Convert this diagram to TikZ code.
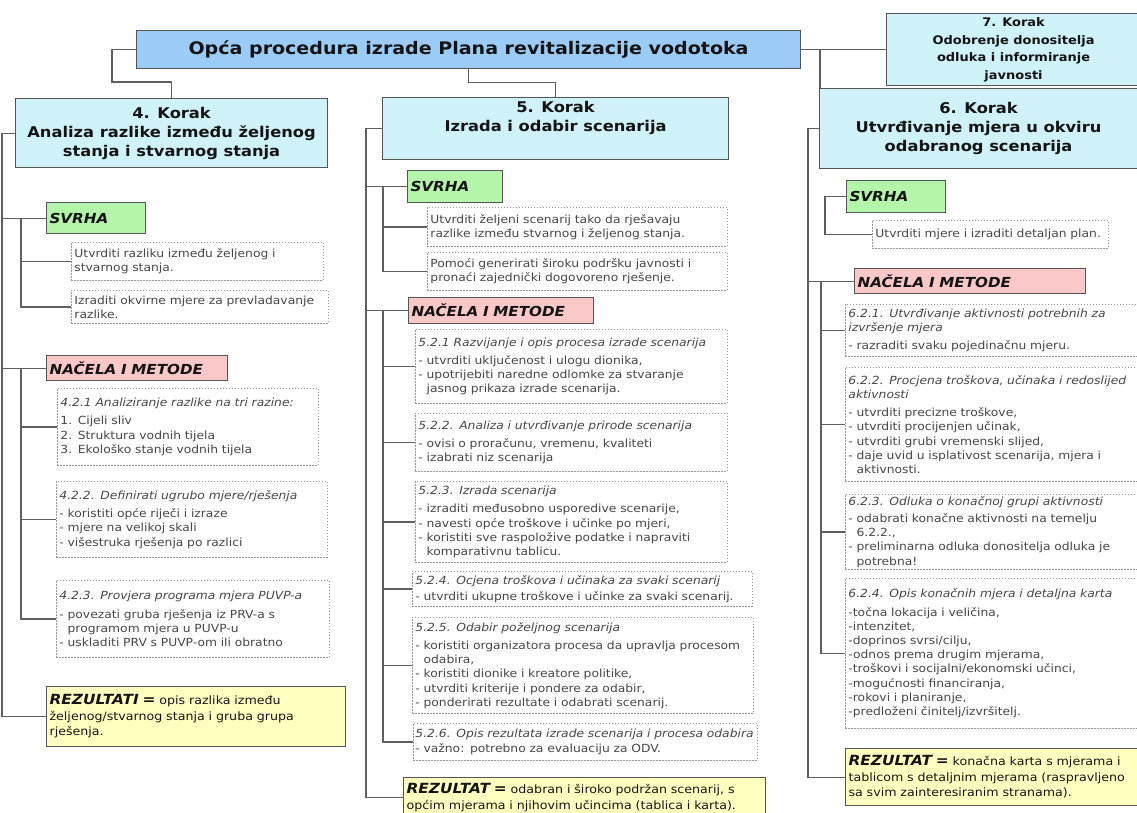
\documentclass[tikz,border=0pt]{standalone}
\usepackage{fontspec}
\setmainfont{DejaVu Sans}[FakeStretch=1.1]
\definecolor{titlec}{RGB}{155,204,248}
\definecolor{korakc}{RGB}{207,242,248}
\definecolor{svrhac}{RGB}{180,245,170}
\definecolor{nacelac}{RGB}{250,200,200}
\definecolor{rezc}{RGB}{255,255,192}
\definecolor{borderc}{RGB}{85,85,85}
\definecolor{connc}{RGB}{95,95,95}
\definecolor{dotc}{RGB}{150,150,150}
\definecolor{bodyc}{RGB}{70,70,70}
\definecolor{headc}{RGB}{20,20,20}
\newcommand\myind{\phantom{-\ }}
\newcommand\fs[2]{\fontsize{#1}{#2}\selectfont}
\begin{document}
\begin{tikzpicture}[x=1pt,y=-1pt,
  solidbox/.style={draw=borderc, line width=1.1pt, anchor=north west, inner sep=0pt, text=headc},
  korak/.style={solidbox, fill=korakc, align=center, font=\fs{14.8}{19}\bfseries},
  svrhabox/.style={solidbox, fill=svrhac, align=left, inner xsep=3pt, font=\fs{13.8}{16}\bfseries\itshape},
  nacelabox/.style={solidbox, fill=nacelac, align=left, inner xsep=3pt, font=\fs{13.8}{16}\bfseries\itshape},
  rezbox/.style={solidbox, fill=rezc, align=left, inner xsep=3pt, font=\fs{11.5}{15.5}},
  dbox/.style={draw=dotc, line width=0.9pt, dash pattern=on 1.5pt off 1.5pt, anchor=north west,
    inner xsep=3pt, inner ysep=1pt, align=left, font=\fs{11.2}{14.2}, text=bodyc},
  conn/.style={draw=connc, line width=1.1pt}
]
\useasboundingbox[fill=white] (0,0) rectangle (1137,812);

% ---------- title and steps ----------
\node[solidbox, fill=titlec, minimum width=664pt, minimum height=38pt, font=\fs{17.3}{20}\bfseries]
  (title) at (136,30) {Opća procedura izrade Plana revitalizacije vodotoka};
\node[korak, minimum width=312pt, minimum height=69pt] (box4) at (15,98)
  {4. Korak\\Analiza razlike između željenog\\stanja i stvarnog stanja};
\node[korak, minimum width=346pt, minimum height=62pt] (box5) at (382,97)
  {5. Korak\\Izrada i odabir scenarija\\\strut};
\node[korak, minimum width=318pt, minimum height=80pt] (box6) at (819,88)
  {6. Korak\\Utvrđivanje mjera u okviru\\odabranog scenarija};
\node[korak, minimum width=254pt, minimum height=72pt, font=\fs{11.8}{17.5}\bfseries] (box7) at (886,13)
  {7. Korak\\Odobrenje donositelja\\odluka i informiranje\\javnosti};

% ---------- column 4 ----------
\node[svrhabox, text width=93pt, minimum height=31pt] (svrha4) at (46,202) {SVRHA};
\node[dbox, text width=246pt, minimum height=38pt] (s4a) at (71,242)
  {Utvrditi razliku između željenog i\\stvarnog stanja.};
\node[dbox, text width=251pt, minimum height=33pt] (s4b) at (71,290)
  {Izraditi okvirne mjere za prevladavanje\\razlike.};
\node[nacelabox, text width=175pt, minimum height=25pt] (nacela4) at (46,355) {NAČELA I METODE};
\node[dbox, text width=255pt, minimum height=77pt] (n4a) at (57,388)
  {\textit{4.2.1 Analiziranje razlike na tri razine:}\\[4pt]1. Cijeli sliv\\2. Struktura vodnih tijela\\3. Ekološko stanje vodnih tijela};
\node[dbox, text width=265pt, minimum height=76pt] (n4b) at (56,481)
  {\textit{4.2.2. Definirati ugrubo mjere/rješenja}\\[4pt]- koristiti opće riječi i izraze\\- mjere na velikoj skali\\- višestruka rješenja po razlici};
\node[dbox, text width=267pt, minimum height=77pt] (n4c) at (56,580)
  {\textit{4.2.3. Provjera programa mjera PUVP-a}\\[4pt]- povezati gruba rješenja iz PRV-a s\\\myind programom mjera u PUVP-u\\- uskladiti PRV s PUVP-om ili obratno};
\node[rezbox, text width=293pt, minimum height=60pt] (rez4) at (46,686)
  {{\fs{14}{15.5}\bfseries\itshape REZULTATI =} opis razlika između\\željenog/stvarnog stanja i gruba grupa\\rješenja.};

% ---------- column 5 ----------
\node[svrhabox, text width=89pt, minimum height=32pt] (svrha5) at (407,170) {SVRHA};
\node[dbox, text width=294pt, minimum height=39pt] (s5a) at (427,207)
  {Utvrditi željeni scenarij tako da rješavaju\\razlike između stvarnog i željenog stanja.};
\node[dbox, text width=294pt, minimum height=38pt] (s5b) at (427,252)
  {Pomoći generirati široku podršku javnosti i\\pronaći zajednički dogovoreno rješenje.};
\node[nacelabox, text width=179pt, minimum height=26pt] (nacela5) at (408,297) {NAČELA I METODE};
\node[dbox, text width=306pt, minimum height=74pt] (n5a) at (415,329)
  {\textit{5.2.1 Razvijanje i opis procesa izrade scenarija}\\[4pt]- utvrditi uključenost i ulogu dionika,\\- upotrijebiti naredne odlomke za stvaranje\\\myind jasnog prikaza izrade scenarija.};
\node[dbox, text width=306pt, minimum height=58pt] (n5b) at (415,413)
  {\textit{5.2.2. Analiza i utvrđivanje prirode scenarija}\\[4pt]- ovisi o proračunu, vremenu, kvaliteti\\- izabrati niz scenarija};
\node[dbox, text width=306pt, minimum height=81pt] (n5c) at (415,481)
  {\textit{5.2.3. Izrada scenarija}\\[4pt]- izraditi međusobno usporedive scenarije,\\- navesti opće troškove i učinke po mjeri,\\- koristiti sve raspoložive podatke i napraviti\\\myind komparativnu tablicu.};
\node[dbox, text width=334pt, minimum height=35pt] (n5d) at (412,571)
  {\textit{5.2.4. Ocjena troškova i učinaka za svaki scenarij}\\[2pt]- utvrditi ukupne troškove i učinke za svaki scenarij.};
\node[dbox, text width=335pt, minimum height=96pt] (n5e) at (412,617)
  {\textit{5.2.5. Odabir poželjnog scenarija}\\[4pt]- koristiti organizatora procesa da upravlja procesom\\\myind odabira,\\- koristiti dionike i kreatore politike,\\- utvrditi kriterije i pondere za odabir,\\- ponderirati rezultate i odabrati scenarij.};
\node[dbox, text width=340pt, minimum height=37pt, inner xsep=2pt] (n5f) at (413,723)
  {\textit{5.2.6. Opis rezultata izrade scenarija i procesa odabira}\\- važno: potrebno za evaluaciju za ODV.};
\node[rezbox, text width=356pt, minimum height=40pt] (rez5) at (403,777)
  {{\fs{14}{15.5}\bfseries\itshape REZULTAT =} odabran i široko podržan scenarij, s\\općim mjerama i njihovim učincima (tablica i karta).};

% ---------- column 6 ----------
\node[svrhabox, text width=93pt, minimum height=32pt] (svrha6) at (846,180) {SVRHA};
\node[dbox, text width=230pt, minimum height=28pt] (s6a) at (872,220)
  {Utvrditi mjere i izraditi detaljan plan.};
\node[nacelabox, text width=225pt, minimum height=25pt] (nacela6) at (854,268) {NAČELA I METODE};
\node[dbox, text width=289pt, minimum height=52pt] (n6a) at (845,304)
  {\textit{6.2.1. Utvrđivanje aktivnosti potrebnih za}\\\textit{izvršenje mjera}\\[4pt]- razraditi svaku pojedinačnu mjeru.};
\node[dbox, text width=289pt, minimum height=114pt] (n6b) at (845,367)
  {\textit{6.2.2. Procjena troškova, učinaka i redoslijed}\\\textit{aktivnosti}\\[4pt]- utvrditi precizne troškove,\\- utvrditi procijenjen učinak,\\- utvrditi grubi vremenski slijed,\\- daje uvid u isplativost scenarija, mjera i\\\myind aktivnosti.};
\node[dbox, text width=289pt, minimum height=75pt] (n6c) at (845,494)
  {\textit{6.2.3. Odluka o konačnoj grupi aktivnosti}\\[3pt]- odabrati konačne aktivnosti na temelju\\\myind 6.2.2.,\\- preliminarna odluka donositelja odluka je\\\myind potrebna!};
\node[dbox, text width=289pt, minimum height=150pt] (n6d) at (845,578)
  {\textit{6.2.4. Opis konačnih mjera i detaljna karta}\\[4pt]-točna lokacija i veličina,\\-intenzitet,\\-doprinos svrsi/cilju,\\-odnos prema drugim mjerama,\\-troškovi i socijalni/ekonomski učinci,\\-mogućnosti financiranja,\\-rokovi i planiranje,\\-predloženi činitelj/izvršitelj.};
\node[rezbox, text width=289pt, minimum height=57pt] (rez6) at (845,748)
  {{\fs{14}{15.5}\bfseries\itshape REZULTAT =} konačna karta s mjerama i\\tablicom s detaljnim mjerama (raspravljeno\\sa svim zainteresiranim stranama).};

% ---------- trunk coordinates ----------
\coordinate (t4) at (2,0);
\coordinate (u4) at (21,0);
\coordinate (t5) at (366,0);
\coordinate (u5) at (383,0);
\coordinate (k6) at (820,0);
\coordinate (t6) at (808,0);
\coordinate (u6) at (821,0);
\coordinate (v6) at (825,0);

% ---------- connectors from title ----------
\draw[conn] (title.west) -- ++(-24,0) |- ([yshift=16pt]box4.north) -- (box4.north);
\draw[conn] (title.south) -- ++(0,13) -| (box5.north);
\draw[conn] (title.east) -- (box7.west);
\draw[conn] (title.east -| k6) -- (k6 |- box6.north);

% ---------- column 4 connectors ----------
\draw[conn] (box4.west) -- (box4.west -| t4) |- (rez4.west);
\draw[conn] (svrha4.west) -- (svrha4.west -| t4);
\draw[conn] (nacela4.west) -- (nacela4.west -| t4);
\draw[conn] (svrha4.west -| u4) |- (s4b.west);
\draw[conn] (s4a.west -| u4) -- (s4a.west);
\draw[conn] (nacela4.west -| u4) |- (n4c.west);
\draw[conn] (n4a.west -| u4) -- (n4a.west);
\draw[conn] (n4b.west -| u4) -- (n4b.west);

% ---------- column 5 connectors ----------
\draw[conn] (box5.west) -- (box5.west -| t5) |- (rez5.west);
\draw[conn] (svrha5.west) -- (svrha5.west -| t5);
\draw[conn] (nacela5.west) -- (nacela5.west -| t5);
\draw[conn] (svrha5.west -| u5) |- (s5b.west);
\draw[conn] (s5a.west -| u5) -- (s5a.west);
\draw[conn] (nacela5.west -| u5) |- (n5f.west);
\draw[conn] (n5a.west -| u5) -- (n5a.west);
\draw[conn] (n5b.west -| u5) -- (n5b.west);
\draw[conn] (n5c.west -| u5) -- (n5c.west);
\draw[conn] (n5d.west -| u5) -- (n5d.west);
\draw[conn] (n5e.west -| u5) -- (n5e.west);

% ---------- column 6 connectors ----------
\draw[conn] (box6.west) -- (box6.west -| t6) |- (rez6.west);
\draw[conn] (nacela6.west) -- (nacela6.west -| t6);
\draw[conn] (svrha6.west) -- (svrha6.west -| v6) |- (s6a.west);
\draw[conn] (nacela6.west -| u6) |- (n6d.west);
\draw[conn] (n6a.west -| u6) -- (n6a.west);
\draw[conn] (n6b.west -| u6) -- (n6b.west);
\draw[conn] (n6c.west -| u6) -- (n6c.west);
\end{tikzpicture}
\end{document}
